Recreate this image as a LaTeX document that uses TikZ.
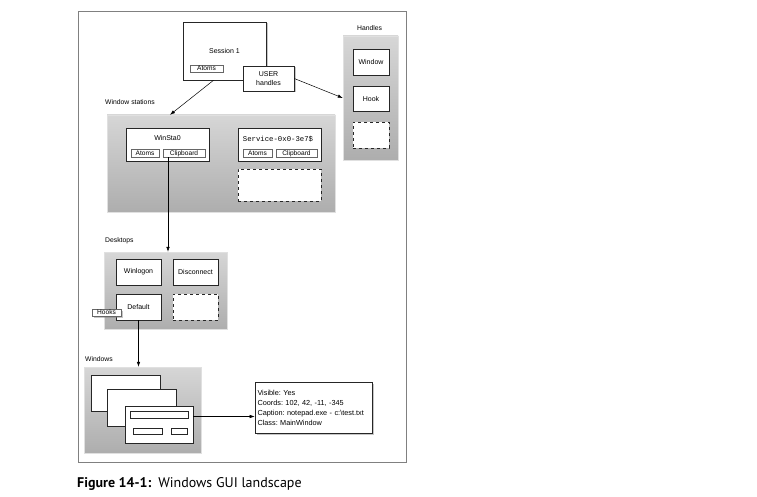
\documentclass[tikz,border=0pt]{standalone}
\usepackage{fontspec}
\setmainfont{Liberation Sans}
\setmonofont{Liberation Mono}
\newfontfamily\capfont{PT Sans}
\usetikzlibrary{arrows.meta,shadows}
\frenchspacing

\begin{document}
\begin{tikzpicture}[x=1pt,y=-1pt,
    >={Latex[length=5pt,width=3.5pt]},
    panel/.style={draw=black!12, top color=black!16, bottom color=black!32},
    box/.style={draw=black!85, fill=white, line width=0.6pt, inner sep=0pt,
      font=\fontsize{7}{8.5}\selectfont, align=center},
    tag/.style={draw=black!60, fill=white, line width=0.5pt, inner sep=0pt,
      minimum height=8pt, text height=5pt, text depth=0.5pt, font=\fontsize{6.6}{7}\selectfont},
    dashbox/.style={draw=black!85, fill=white, dashed, line width=0.6pt},
    shade/.style={drop shadow={shadow xshift=1.5pt, shadow yshift=-1.5pt, opacity=0.45}},
    lbl/.style={anchor=west, inner sep=0pt, font=\fontsize{6.8}{8}\selectfont},
    arr/.style={->, line width=0.5pt}]
  \useasboundingbox (0,0) rectangle (757,497);
  % outer frame
  \draw[black!50, line width=0.8pt] (78,11) rectangle (406,462);

  % session
  \node[box, shade, minimum width=83pt, minimum height=58pt] (session) at (224.5,51) {Session 1};
  \node[tag, minimum width=33pt, minimum height=7pt] (sessatoms) at (206.5,68.5) {Atoms};
  \node[box, shade, minimum width=51pt, minimum height=25pt] (userh) at (268.5,78.5) {USER\\handles};

  % handles
  \node[lbl] (handleslbl) at (357,28) {Handles};
  \node[panel, minimum width=55pt, minimum height=124pt] (handles) at (370.5,98) {};
  \node[box, minimum width=36pt, minimum height=26pt] (hwin) at (371,62) {Window};
  \node[box, minimum width=36pt, minimum height=25pt] (hhook) at (371,98.5) {Hook};
  \node[dashbox, minimum width=36pt, minimum height=26pt] (hdash) at (371,135) {};

  % window stations
  \node[lbl] (stationslbl) at (105,102) {Window stations};
  \node[panel, minimum width=228pt, minimum height=97pt] (stations) at (221,163.5) {};
  \node[box, minimum width=83pt, minimum height=33pt] (winsta) at (167.5,144.5) {};
  \node[inner sep=0pt, font=\fontsize{7}{8}\selectfont] (winstaname) at (167.5,138) {WinSta0};
  \node[tag, minimum width=28pt] (wsatoms) at (145,153) {Atoms};
  \node[tag, minimum width=42pt] (wsclip) at (184,153) {Clipboard};
  \node[box, minimum width=83pt, minimum height=33pt] (service) at (279.5,144.5) {};
  \node[inner sep=0pt, font=\ttfamily\fontsize{7.3}{8}\selectfont] (servicename) at (278,139) {Service-0x0-3e7\$};
  \node[tag, minimum width=29pt] (svatoms) at (257.5,153) {Atoms};
  \node[tag, minimum width=41pt] (svclip) at (296.5,153) {Clipboard};
  \node[dashbox, minimum width=83pt, minimum height=32pt] (svdash) at (279.5,185) {};

  % desktops
  \node[lbl] (desktopslbl) at (105,241) {Desktops};
  \node[panel, minimum width=123pt, minimum height=77pt] (desktops) at (165.5,290.5) {};
  \node[box, minimum width=45pt, minimum height=26pt] (winlogon) at (138.5,272) {Winlogon};
  \node[box, minimum width=45pt, minimum height=26pt] (disconnect) at (195.5,272) {Disconnect};
  \node[box, minimum width=45pt, minimum height=26pt] (default) at (138.5,307) {Default};
  \node[dashbox, minimum width=45pt, minimum height=26pt] (dkdash) at (195.5,307) {};
  \node[tag, shade, minimum width=29pt, minimum height=7pt] (hooks) at (106.5,312.5) {Hooks};

  % windows
  \node[lbl] (windowslbl) at (85,359) {Windows};
  \node[panel, minimum width=117pt, minimum height=86pt] (windows) at (142.5,410) {};
  \node[box, minimum width=69pt, minimum height=36pt] (win1) at (125.5,393) {};
  \node[box, minimum width=69pt, minimum height=37pt] (win2) at (141.5,407.5) {};
  \node[box, minimum width=68pt, minimum height=37pt] (win3) at (159,424.5) {};
  \node[tag, draw=black!85, minimum width=58pt, minimum height=7pt] (bar) at (159,414.5) {};
  \node[tag, draw=black!85, minimum width=29pt, minimum height=6pt] (btn1) at (147.5,431) {};
  \node[tag, draw=black!85, minimum width=16pt, minimum height=6pt] (btn2) at (179,431) {};
  \node[box, shade, minimum width=117pt, minimum height=51pt, text width=112pt,
    align=left, font=\fontsize{7.3}{10}\selectfont] (info) at (313.5,407.5)
    {Visible: Yes\\Coords: 102, 42, -11, -345\\Caption: notepad.exe - c:\textbackslash test.txt\\Class: MainWindow};

  % connectors
  \draw[arr] ([xshift=-11pt]session.south) -- ([xshift=-51pt]stations.north);
  \draw[arr] (userh.east) -- (handles.west);
  \draw[arr] ([xshift=-16pt]wsclip.south) -- ([xshift=-16pt]wsclip.south |- desktops.north);
  \draw[arr] (default.south) -- (default.south |- windows.north);
  \draw[arr] ([yshift=8pt]win3.east) -- ([yshift=8pt]win3.east -| info.west);

  % caption
  \node[anchor=west, inner sep=0pt, font=\capfont\fontsize{14}{16}\selectfont] (caption) at (77,484)
    {\textbf{Figure 14-1:}\enspace Windows GUI landscape};
\end{tikzpicture}
\end{document}
